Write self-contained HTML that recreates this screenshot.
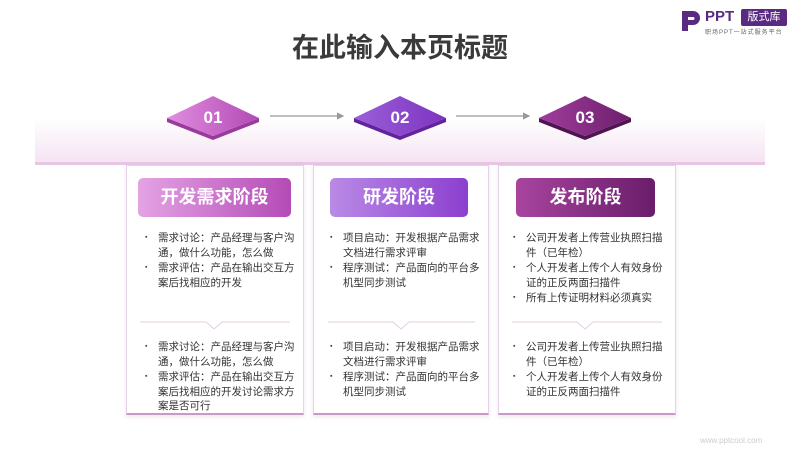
<!DOCTYPE html>
<html><head><meta charset="utf-8"><style>
*{margin:0;padding:0;box-sizing:border-box}
body{width:800px;height:450px;background:#fff;position:relative;overflow:hidden;font-family:"Liberation Sans","Noto Sans CJK SC",sans-serif}
.abs{position:absolute}
.title{left:0;width:800px;top:26px;text-align:center;font-size:27px;font-weight:bold;color:#3a3a3a}
.band{left:35px;top:118px;width:730px;height:47px;background:linear-gradient(#fff,#f5e4f3);border-bottom:3px solid #e6c6e4}
.card{top:165px;height:250px;background:#fff;border:1px solid #e7d3e7;border-bottom:2px solid #c99ac9;box-shadow:0 2px 4px rgba(150,80,150,.15)}
.hd{height:39px;top:178px;border-radius:5px;color:#fff;font-weight:bold;font-size:18px;text-align:center;line-height:39px}
.txt{font-size:10.5px;color:#333;line-height:14.5px}
.txt div{position:relative;padding-left:13px;margin-bottom:1px}
.txt div:before{content:"▪";position:absolute;left:0;font-size:7px;color:#444}
</style></head><body>
<div class="abs title">在此输入本页标题</div>
<div class="abs" style="left:680px;top:9px;width:22px;height:24px">
<svg width="22" height="24"><path d="M2 2h11a7 7 0 0 1 0 14H8v6H2z M8 8v3h5a1.5 1.5 0 0 0 0-3z" fill="#5a2a82"/></svg></div>
<div class="abs" style="left:705px;top:8px;font-size:15px;font-weight:bold;color:#5a2a82">PPT</div>
<div class="abs" style="left:741px;top:9px;width:46px;height:17px;background:#5a2a82;color:#fff;font-size:11px;line-height:17px;text-align:center;border-radius:2px">版式库</div>
<div class="abs" style="left:705px;top:27px;font-size:6px;color:#666;letter-spacing:1px">职场PPT一站式服务平台</div>
<div class="abs band"></div>
<svg class="abs" style="left:0;top:0" width="800" height="160">
<defs>
<linearGradient id="g1" x1="0" x2="1"><stop offset="0" stop-color="#e08ddf"/><stop offset="1" stop-color="#b24ab5"/></linearGradient>
<linearGradient id="g2" x1="0" x2="1"><stop offset="0" stop-color="#9b5fd8"/><stop offset="1" stop-color="#7d34c1"/></linearGradient>
<linearGradient id="g3" x1="0" x2="1"><stop offset="0" stop-color="#a03d9d"/><stop offset="1" stop-color="#6c1f6c"/></linearGradient>
<marker id="ar" markerWidth="6" markerHeight="6" refX="5" refY="3" orient="auto"><path d="M0 0L6 3L0 6z" fill="#999"/></marker>
</defs>
<g transform="translate(213,116)"><path d="M-46 2L0 20L46 2L46 6L0 24L-46 6z" fill="#9a3a9c"/><path d="M-46 2L0 -20L46 2L0 20z" fill="url(#g1)"/><text y="7" text-anchor="middle" fill="#fff" font-size="17" font-weight="bold" font-family="Liberation Sans">01</text></g>
<g transform="translate(400,116)"><path d="M-46 2L0 20L46 2L46 6L0 24L-46 6z" fill="#62239c"/><path d="M-46 2L0 -20L46 2L0 20z" fill="url(#g2)"/><text y="7" text-anchor="middle" fill="#fff" font-size="17" font-weight="bold" font-family="Liberation Sans">02</text></g>
<g transform="translate(585,116)"><path d="M-46 2L0 20L46 2L46 6L0 24L-46 6z" fill="#501450"/><path d="M-46 2L0 -20L46 2L0 20z" fill="url(#g3)"/><text y="7" text-anchor="middle" fill="#fff" font-size="17" font-weight="bold" font-family="Liberation Sans">03</text></g>
<line x1="270" y1="116" x2="343" y2="116" stroke="#999" stroke-width="1.2" marker-end="url(#ar)"/>
<line x1="456" y1="116" x2="529" y2="116" stroke="#999" stroke-width="1.2" marker-end="url(#ar)"/>
</svg>

<div class="abs card" style="left:126px;width:178px"></div>
<div class="abs card" style="left:313px;width:176px"></div>
<div class="abs card" style="left:498px;width:178px"></div>
<div class="abs hd" style="left:138px;width:153px;background:linear-gradient(90deg,#e4a3e4,#b44bb6)">开发需求阶段</div>
<div class="abs hd" style="left:330px;width:138px;background:linear-gradient(90deg,#b98ae6,#8b3fcf)">研发阶段</div>
<div class="abs hd" style="left:516px;width:139px;background:linear-gradient(90deg,#a8449f,#6a1d6a)">发布阶段</div>

<svg class="abs" style="left:0;top:312px" width="800" height="20">
<g fill="none" stroke="#e3cfe3" stroke-width="1">
<path d="M140 10H206L214 17L222 10H290"/><path d="M328 10H393L401 17L409 10H475"/><path d="M512 10H577L585 17L593 10H662"/>
</g></svg>

<div class="abs txt" style="left:145px;top:231px;width:150px">
<div>需求讨论：产品经理与客户沟通，做什么功能，怎么做</div>
<div>需求评估：产品在输出交互方案后找相应的开发</div></div>
<div class="abs txt" style="left:145px;top:340px;width:150px">
<div>需求讨论：产品经理与客户沟通，做什么功能，怎么做</div>
<div>需求评估：产品在输出交互方案后找相应的开发讨论需求方案是否可行</div></div>
<div class="abs txt" style="left:330px;top:231px;width:150px">
<div>项目启动：开发根据产品需求文档进行需求评审</div>
<div>程序测试：产品面向的平台多机型同步测试</div></div>
<div class="abs txt" style="left:330px;top:340px;width:150px">
<div>项目启动：开发根据产品需求文档进行需求评审</div>
<div>程序测试：产品面向的平台多机型同步测试</div></div>
<div class="abs txt" style="left:513px;top:231px;width:152px">
<div>公司开发者上传营业执照扫描件（已年检）</div>
<div>个人开发者上传个人有效身份证的正反两面扫描件</div>
<div>所有上传证明材料必须真实</div></div>
<div class="abs txt" style="left:513px;top:340px;width:152px">
<div>公司开发者上传营业执照扫描件（已年检）</div>
<div>个人开发者上传个人有效身份证的正反两面扫描件</div></div>
<div class="abs" style="left:700px;top:436px;font-size:8px;color:#ccc">www.pptcool.com</div>
</body></html>
